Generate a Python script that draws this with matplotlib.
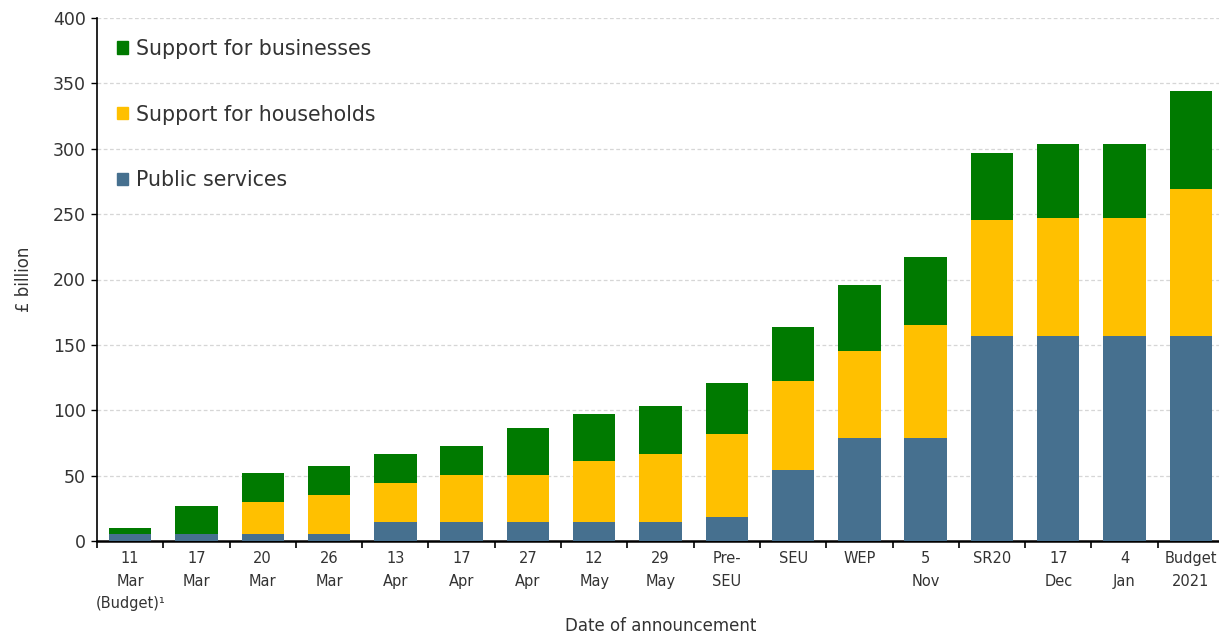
import matplotlib
matplotlib.use("Agg")
import matplotlib.pyplot as plt
import numpy as np
from matplotlib.patches import Patch

categories = ["11\nMar\n(Budget)¹", "17\nMar", "20\nMar", "26\nMar", "13\nApr", "17\nApr",
              "27\nApr", "12\nMay", "29\nMay", "Pre-\nSEU", "SEU", "WEP", "5\nNov",
              "SR20", "17\nDec", "4\nJan", "Budget\n2021"]
public_services = [5, 5, 5, 5, 14.5, 14.5, 14.5, 14.5, 14.5, 18, 54, 79, 79, 157, 157, 157, 157]
households = [0, 0, 25, 30, 30, 36, 36, 47, 52, 64, 68, 66, 86, 88.5, 90, 90, 112]
businesses = [5, 22, 22, 22, 22, 22, 36, 36, 37, 39, 42, 51, 52, 51.5, 56.5, 56.5, 75]
yticks = [0, 50, 100, 150, 200, 250, 300, 350, 400]

c_ps = "#46708F"
c_hh = "#FFC000"
c_bus = "#007A00"

W, H = 1219, 638
fig = plt.figure(figsize=(W / 100, H / 100), dpi=100)
ax = fig.add_axes([97 / W, (H - 541) / H, 1127 / W, 523 / H])

x = np.arange(len(categories))
ps = np.array(public_services)
hh = np.array(households)
bus = np.array(businesses)
bw = 0.64
ax.bar(x, ps, bw, color=c_ps, zorder=3)
ax.bar(x, hh, bw, bottom=ps, color=c_hh, zorder=3)
ax.bar(x, bus, bw, bottom=ps + hh, color=c_bus, zorder=3)

ax.set_xlim(-0.5, len(categories) - 0.5)
ax.set_ylim(0, 400)
ax.set_yticks(yticks)
ax.set_yticklabels([str(v) for v in yticks], fontsize=12.5, color="#333333")
ax.yaxis.grid(True, linestyle=(0, (3, 2)), color="#d6d6d6", linewidth=0.9, zorder=0)
ax.tick_params(axis="y", length=4, width=1, pad=4, direction="out")

ax.set_xticks(x)
ax.set_xticklabels(categories, fontsize=10.5, color="#333333", linespacing=1.65)
ax.tick_params(axis="x", length=0, pad=7)
ax.set_xticks(np.arange(-0.5, len(categories), 1), minor=True)
ax.tick_params(axis="x", which="minor", length=5, width=1.2, direction="out")

for s in ["top", "right"]:
    ax.spines[s].set_visible(False)
ax.spines["left"].set_linewidth(1.2)
ax.spines["bottom"].set_linewidth(1.8)

ax.set_ylabel("£ billion", fontsize=12, color="#333333", labelpad=14)
ax.set_xlabel("Date of announcement", fontsize=12, color="#333333", labelpad=4)

handles = [Patch(color=c_bus), Patch(color=c_hh), Patch(color=c_ps)]
labels = ["Support for businesses", "Support for households", "Public services"]
leg = ax.legend(handles, labels, loc="upper left", bbox_to_anchor=(0.0177, 0.96),
                frameon=False, fontsize=14.8, labelspacing=2.22, handlelength=0.55,
                handleheight=0.55, handletextpad=0.4, borderpad=0, borderaxespad=0)
for t in leg.get_texts():
    t.set_color("#333333")

fig.savefig("out.png", dpi=100)
